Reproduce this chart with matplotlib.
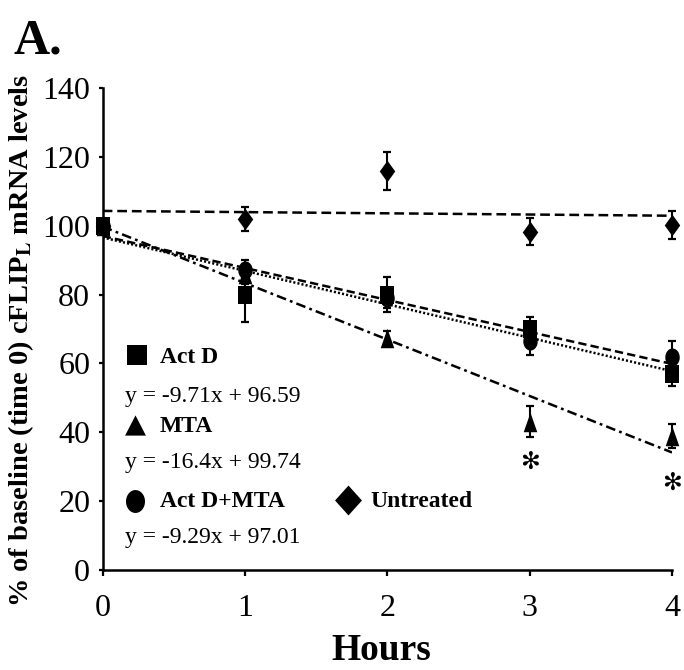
import numpy as np
import matplotlib
matplotlib.use('Agg')
import matplotlib.pyplot as plt
from matplotlib.lines import Line2D

plt.rcParams['font.family'] = ['Liberation Serif', 'DejaVu Serif', 'DejaVu Sans']
plt.rcParams['mathtext.fontset'] = 'stix'
plt.rcParams['lines.scale_dashes'] = False

# ---------------- data ----------------
hours = [0, 1, 2, 3, 4]
actd = [100, 80, 80, 70, 57]
actd_err = [2, 8, 5, 3.5, 3.5]
mta = [100, 86, 67.5, 43, 39]
mta_err = [1, 3, 2, 4.5, 3.5]
combo = [100, 87, 79, 66.5, 62]
combo_err = [1, 3, 3, 4, 4.5]
untreated = [100, 102, 116, 98.3, 100.2]
untreated_err = [1.5, 3.4, 5.5, 3.8, 4.2]

# trendline (slope, intercept)
trend_actd = (-9.71, 96.59)
trend_mta = (-16.4, 99.74)
trend_combo = (-9.29, 97.01)
trend_untreated = (-0.35, 104.3)

eq_actd = "y = -9.71x + 96.59"
eq_mta = "y = -16.4x + 99.74"
eq_combo = "y = -9.29x + 97.01"

star_x = [3, 4]
star_y = [31.5, 25.3]

xticks = [0, 1, 2, 3, 4]
yticks = [0, 20, 40, 60, 80, 100, 120, 140]

# ---------------- marker shapes ----------------
def rect(w, h):
    return [(-w, -h), (w, -h), (w, h), (-w, h), (-w, -h)]

def tri(w, h):
    return [(0, h), (-w, -h), (w, -h), (0, h)]

def diam(w, h):
    return [(0, h), (w, 0), (0, -h), (-w, 0), (0, h)]

def ell(w, h):
    t = np.linspace(0, 2 * np.pi, 60)
    return list(zip(w * np.cos(t), h * np.sin(t)))

W, H = 684, 670
fig = plt.figure(figsize=(W / 100, H / 100), dpi=100)
ax = fig.add_axes([102.7 / W, 1 - 570 / H, (672 - 102.7) / W, (570 - 88) / H])

def fx(px):
    return px / W

def fy(py):
    return 1 - py / H

ax.set_xlim(0, 4)
ax.set_ylim(0, 140)

xs = np.array([0.0, 4.0])
lw_t = 1.8
ax.plot(xs, trend_untreated[0] * xs + trend_untreated[1], color='k', lw=lw_t,
        dashes=(7, 3.5), zorder=2)
ax.plot(xs, trend_combo[0] * xs + trend_combo[1], color='k', lw=lw_t,
        dashes=(6, 3), zorder=2)
ax.plot(xs, trend_actd[0] * xs + trend_actd[1], color='k', lw=lw_t,
        dashes=(1.5, 1.5), zorder=2)
ax.plot(xs, trend_mta[0] * xs + trend_mta[1], color='k', lw=lw_t,
        dashes=(7, 3, 2, 3), zorder=2)

series = [
    (untreated, untreated_err, diam(0.72, 1), 15.5),
    (combo, combo_err, ell(0.8, 1), 13),
    (mta, mta_err, tri(0.7, 1), 14),
    (actd, actd_err, rect(0.83, 1), 13),
]
for i, (vals, err, mk, ms) in enumerate(series):
    ax.errorbar(hours, vals, yerr=err, fmt='none', ecolor='k', elinewidth=1.5,
                capsize=2.6, capthick=1.6, clip_on=False, zorder=3 + i)
    ax.plot(hours, vals, linestyle='none', marker=mk, markersize=ms,
            color='k', markeredgewidth=0, clip_on=False, zorder=3 + i)

for sx, sy in zip(star_x, star_y):
    ax.text(sx, sy, '✻', fontsize=17, ha='center', va='center',
            family='DejaVu Sans')

for s in ['top', 'right']:
    ax.spines[s].set_visible(False)
for s in ['left', 'bottom']:
    ax.spines[s].set_linewidth(1.8)

ax.set_xticks(xticks)
ax.set_yticks(yticks)
ax.tick_params(axis='y', direction='out', length=3, width=1.6, labelsize=23, pad=6)
ax.tick_params(axis='x', direction='out', length=4, width=1.6, labelsize=23, pad=13)

fig.text(fx(381), fy(668), 'Hours', fontsize=27, fontweight='bold',
         ha='center', va='bottom')
fig.text(fx(21), fy(340), r'% of baseline (time 0) cFLIP$_{\mathbf{L}}$ mRNA levels',
         rotation=90, fontsize=20.5, fontweight='bold', ha='center', va='center')
fig.text(fx(14), fy(54), 'A.', fontsize=36, fontweight='bold', ha='left',
         va='baseline')

# legend (Excel-style)
def lmark(px, py, mk, ms):
    fig.add_artist(Line2D([fx(px)], [fy(py)], transform=fig.transFigure,
                          marker=mk, markersize=ms, color='k',
                          markeredgewidth=0, linestyle='none'))

fs_leg = 17
lmark(137, 355, rect(1, 0.97), 15)
fig.text(fx(160), fy(363), 'Act D', fontsize=fs_leg, fontweight='bold', va='baseline')
fig.text(fx(125), fy(402), eq_actd, fontsize=fs_leg, va='baseline')
lmark(135, 425, tri(1, 0.97), 15)
fig.text(fx(160), fy(432), 'MTA', fontsize=fs_leg, fontweight='bold', va='baseline')
fig.text(fx(125), fy(468), eq_mta, fontsize=fs_leg, va='baseline')
lmark(135, 501, ell(0.83, 1), 16.5)
fig.text(fx(160), fy(507), 'Act D+MTA', fontsize=fs_leg, fontweight='bold', va='baseline')
lmark(348, 500, diam(0.9, 1), 21.5)
fig.text(fx(370), fy(507), 'Untreated', fontsize=fs_leg, fontweight='bold', va='baseline')
fig.text(fx(125), fy(543), eq_combo, fontsize=fs_leg, va='baseline')

fig.savefig('out.png', dpi=100)
